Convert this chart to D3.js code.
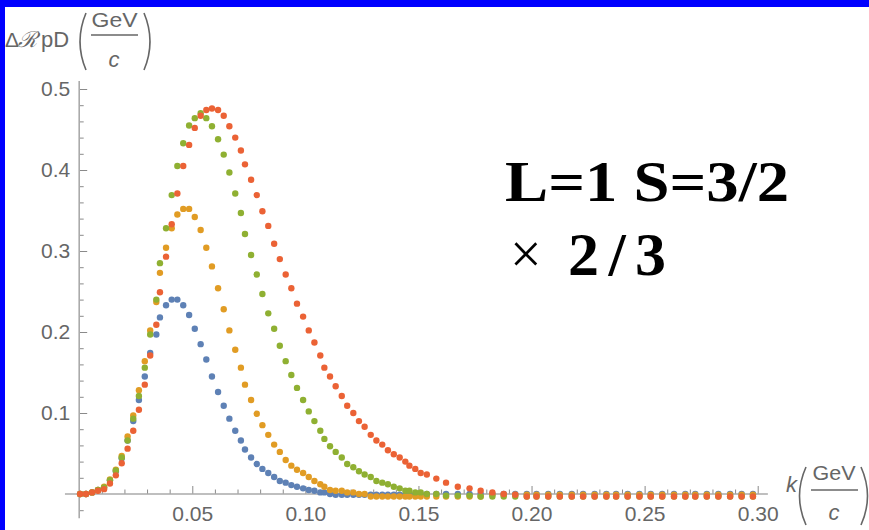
<!DOCTYPE html>
<html>
<head>
<meta charset="utf-8">
<script src="https://cdn.jsdelivr.net/npm/d3@7"></script>
<style>
body { margin: 0; background: #fff; }
svg { display: block; }
</style>
</head>
<body>
<svg width="869" height="530"></svg>
<script>
// k (GeV/c) -- the same sample points for every curve
var k = [0.0004, 0.0030, 0.0057, 0.0083, 0.0110, 0.0136, 0.0162, 0.0188, 0.0214, 0.0239,
         0.0264, 0.0290, 0.0314, 0.0341, 0.0357, 0.0384, 0.0409, 0.0434, 0.0460, 0.0486,
         0.0511, 0.0537, 0.0562, 0.0587, 0.0614, 0.0639, 0.0664, 0.0690, 0.0715, 0.0733,
         0.0760, 0.0785, 0.0810, 0.0836, 0.0862, 0.0887, 0.0913, 0.0938, 0.0963, 0.0990,
         0.1015, 0.1040, 0.1066, 0.1084, 0.1109, 0.1134, 0.1161, 0.1185, 0.1212, 0.1237,
         0.1262, 0.1289, 0.1314, 0.1340, 0.1365, 0.1391, 0.1417, 0.1442, 0.1460, 0.1486,
         0.1510, 0.1537, 0.1579, 0.1622, 0.1674, 0.1726, 0.1775, 0.1827, 0.1877, 0.1928,
         0.1979, 0.2022, 0.2074, 0.2125, 0.2178, 0.2228, 0.2279, 0.2331, 0.2374, 0.2425,
         0.2477, 0.2527, 0.2578, 0.2630, 0.2680, 0.2724, 0.2775, 0.2826, 0.2878, 0.2929, 0.2979];

var blueVals = [0, 0, 0.002, 0.005, 0.008, 0.017, 0.028, 0.044, 0.066, 0.090,
                0.116, 0.145, 0.174, 0.197, 0.218, 0.233, 0.240, 0.240, 0.233, 0.221,
                0.204, 0.185, 0.166, 0.145, 0.126, 0.109, 0.093, 0.078, 0.066, 0.055,
                0.045, 0.037, 0.031, 0.026, 0.021, 0.016, 0.014, 0.011, 0.009, 0.007,
                0.005, 0.004, 0.002, 0.002, 0.000, -0.001, -0.001, -0.001, -0.001, -0.001,
                -0.001, -0.001, -0.001, -0.001, -0.001, -0.001, -0.001, -0.001, -0.001, -0.001,
                -0.001, 0, 0, 0, 0, 0, 0, 0, 0, 0,
                0, 0, 0, 0, 0, 0, 0, 0, 0, 0,
                0, 0, 0, 0, 0, 0, 0, 0, 0, 0, 0];

var orangeVals = [0, 0, 0.002, 0.005, 0.009, 0.018, 0.030, 0.047, 0.071, 0.097,
                  0.128, 0.164, 0.202, 0.237, 0.273, 0.304, 0.328, 0.345, 0.352, 0.352,
                  0.342, 0.326, 0.304, 0.281, 0.254, 0.228, 0.202, 0.178, 0.156, 0.135,
                  0.116, 0.099, 0.085, 0.073, 0.061, 0.052, 0.042, 0.035, 0.030, 0.026,
                  0.021, 0.016, 0.012, 0.009, 0.005, 0.004, 0.004, 0.002, 0.002, 0.000,
                  0.000, -0.003, -0.003, -0.003, -0.003, -0.003, -0.003, -0.003, -0.003, -0.003,
                  -0.003, -0.003, -0.003, -0.003, -0.003, -0.003, -0.003, -0.001, -0.001, -0.001,
                  -0.001, -0.001, -0.001, -0.001, -0.001, -0.001, -0.001, -0.001, -0.001, -0.001,
                  -0.001, -0.001, -0.001, -0.001, -0.001, -0.001, -0.001, -0.001, -0.001, -0.001, -0.001];

var greenVals = [0, 0, 0.002, 0.005, 0.008, 0.017, 0.029, 0.045, 0.066, 0.093,
                 0.121, 0.156, 0.197, 0.240, 0.285, 0.328, 0.369, 0.405, 0.433, 0.455,
                 0.464, 0.470, 0.464, 0.454, 0.438, 0.419, 0.397, 0.371, 0.347, 0.321,
                 0.295, 0.271, 0.247, 0.223, 0.204, 0.183, 0.164, 0.147, 0.131, 0.116,
                 0.102, 0.090, 0.078, 0.068, 0.059, 0.052, 0.045, 0.037, 0.033, 0.028,
                 0.024, 0.021, 0.016, 0.014, 0.012, 0.009, 0.007, 0.004, 0.004, 0.002,
                 0.002, 0.000, 0.000, -0.002, -0.002, -0.002, -0.003, -0.003, -0.003, -0.003,
                 -0.003, -0.003, -0.003, -0.003, -0.003, -0.003, -0.003, -0.003, -0.003, -0.003,
                 -0.003, -0.003, -0.003, -0.003, -0.003, -0.003, -0.003, -0.003, -0.003, -0.003, -0.003];

var redVals = [0, 0, 0.002, 0.004, 0.006, 0.013, 0.023, 0.038, 0.056, 0.078,
               0.104, 0.135, 0.171, 0.209, 0.249, 0.293, 0.333, 0.371, 0.405, 0.431,
               0.452, 0.467, 0.474, 0.476, 0.474, 0.467, 0.454, 0.440, 0.424, 0.407,
               0.388, 0.369, 0.349, 0.331, 0.309, 0.290, 0.271, 0.254, 0.235, 0.219,
               0.202, 0.187, 0.171, 0.156, 0.145, 0.133, 0.121, 0.109, 0.100, 0.090,
               0.083, 0.073, 0.066, 0.061, 0.054, 0.049, 0.045, 0.040, 0.035, 0.031,
               0.026, 0.024, 0.019, 0.014, 0.009, 0.007, 0.004, 0.002, 0.000, -0.001,
               -0.003, -0.003, -0.003, -0.003, -0.003, -0.003, -0.003, -0.003, -0.003, -0.003,
               -0.003, -0.003, -0.003, -0.003, -0.003, -0.003, -0.003, -0.003, -0.003, -0.003, -0.003];

var xTicks = [0.05, 0.10, 0.15, 0.20, 0.25, 0.30];
var xTickLabels = ["0.05", "0.10", "0.15", "0.20", "0.25", "0.30"];
var yTicks = [0.1, 0.2, 0.3, 0.4, 0.5];
var yTickLabels = ["0.1", "0.2", "0.3", "0.4", "0.5"];

// drawn in this order, last one on top
var series = [
    {id: 'blue',   color: '#5E81B5', values: blueVals},
    {id: 'orange', color: '#E19C24', values: orangeVals},
    {id: 'green',  color: '#8FB032', values: greenVals},
    {id: 'red',    color: '#EB6235', values: redVals},
];

var svg = d3.select("svg"),
    width = +svg.attr("width"),
    height = +svg.attr("height");

var x = d3.scaleLinear().domain([0, 0.3]).range([79.2, 757.7]),
    y = d3.scaleLinear().domain([0, 0.5]).range([494, 89]);

var labelFont = "'Liberation Sans', Arial, Helvetica, sans-serif",
    textGray = "#666",
    axisGray = "#aaa",
    tickGray = "#8a8a8a";

svg.append("rect").attr("width", width).attr("height", height).attr("fill", "#fff");
// blue frame (top and left only)
svg.append("rect").attr("x", 0).attr("y", 0).attr("width", width).attr("height", 7).attr("fill", "#0000FF");
svg.append("rect").attr("x", 0).attr("y", 0).attr("width", 5).attr("height", height).attr("fill", "#0000FF");

// minor ticks
var xMinor = d3.range(1, 31).map(function (d) { return d / 100; })
    .filter(function (d) { return Math.round(d * 100) % 5 != 0; });
var yMinor = d3.range(-1, 26).map(function (d) { return d / 50; })
    .filter(function (d) { return Math.round(d * 50) % 5 != 0; });

function styleAxis(g) {
    g.select(".domain").remove();
    g.selectAll(".tick line").attr("stroke", tickGray).attr("stroke-width", 1);
    g.selectAll(".tick text").attr("fill", textGray).attr("font-family", labelFont).attr("font-size", 21);
}

svg.append("g")
    .attr("transform", "translate(0," + y(0) + ")")
    .call(d3.axisBottom(x).tickValues(xMinor).tickSizeInner(-4.5).tickSizeOuter(0).tickFormat(""))
    .call(styleAxis);

svg.append("g")
    .attr("transform", "translate(0," + y(0) + ")")
    .call(d3.axisBottom(x).tickValues(xTicks).tickSizeInner(-8).tickSizeOuter(0).tickPadding(12)
        .tickFormat(function (d, i) { return xTickLabels[i]; }))
    .call(styleAxis);

svg.append("g")
    .attr("transform", "translate(" + x(0) + ",0)")
    .call(d3.axisLeft(y).tickValues(yMinor).tickSizeInner(-4.5).tickSizeOuter(0).tickFormat(""))
    .call(styleAxis);

svg.append("g")
    .attr("transform", "translate(" + x(0) + ",0)")
    .call(d3.axisLeft(y).tickValues(yTicks).tickSizeInner(-8).tickSizeOuter(0).tickPadding(9)
        .tickFormat(function (d, i) { return yTickLabels[i]; }))
    .call(styleAxis);

// axis lines
svg.append("line")
    .attr("x1", x(-0.0063)).attr("x2", x(0.3045))
    .attr("y1", y(0)).attr("y2", y(0))
    .attr("stroke", axisGray).attr("stroke-width", 1.6);
svg.append("line")
    .attr("x1", x(0)).attr("x2", x(0))
    .attr("y1", y(0.51)).attr("y2", y(-0.03))
    .attr("stroke", axisGray).attr("stroke-width", 1.6);

// points
series.forEach(function (s) {
    svg.append("g")
        .attr("fill", s.color)
        .selectAll("circle")
        .data(s.values)
        .enter().append("circle")
        .attr("cx", function (d, i) { return x(k[i]); })
        .attr("cy", function (d) { return y(d); })
        .attr("r", 3.2);
});

// big thin parentheses
function paren(x0, top, bottom, bulge) {
    var p = d3.path();
    p.moveTo(x0, top);
    p.quadraticCurveTo(x0 + 2 * bulge, (top + bottom) / 2, x0, bottom);
    svg.append("path").attr("d", p.toString())
        .attr("fill", "none").attr("stroke", textGray).attr("stroke-width", 1.6);
}

function label(x0, y0, txt, size, opts) {
    opts = opts || {};
    var t = svg.append("text")
        .attr("x", x0).attr("y", y0)
        .attr("font-family", opts.family || labelFont)
        .attr("font-size", size)
        .attr("fill", textGray)
        .text(txt);
    if (opts.italic) t.attr("font-style", "italic");
    if (opts.anchor) t.attr("text-anchor", opts.anchor);
    if (opts.len) t.attr("textLength", opts.len).attr("lengthAdjust", "spacingAndGlyphs");
    return t;
}

// y axis label: ΔR pD (GeV / c)
label(5, 47, "Δ", 21);
label(18, 47, "\u211B", 22, {family: "'DejaVu Serif', serif", italic: true});
label(41, 47, "pD", 22);
paren(86, 13, 70, -6);
label(114.5, 27, "GeV", 21, {anchor: "middle", len: 46});
svg.append("line").attr("x1", 91).attr("x2", 138).attr("y1", 35).attr("y2", 35)
    .attr("stroke", textGray).attr("stroke-width", 1.3);
label(114, 67, "c", 22, {anchor: "middle", italic: true});
paren(144, 13, 70, 6);

// x axis label: k (GeV / c)
label(786, 492, "k", 22, {italic: true});
paren(806, 467, 525, -6.5);
label(834, 480, "GeV", 21, {anchor: "middle", len: 43});
svg.append("line").attr("x1", 811).attr("x2", 858).attr("y1", 490).attr("y2", 490)
    .attr("stroke", textGray).attr("stroke-width", 1.3);
label(834, 520, "c", 22, {anchor: "middle", italic: true});
paren(861, 467, 525, 6.5);

// annotation
var serif = "'Liberation Serif', 'Times New Roman', Times, serif";
svg.append("text")
    .attr("x", 505).attr("y", 201)
    .attr("font-family", serif).attr("font-weight", "bold").attr("font-size", 58)
    .attr("textLength", 284).attr("lengthAdjust", "spacingAndGlyphs")
    .attr("fill", "#000")
    .text("L=1 S=3/2");
svg.append("text")
    .attr("x", 510).attr("y", 273)
    .attr("font-family", serif).attr("font-size", 56).attr("fill", "#000")
    .text("\u00D7");
svg.append("text")
    .attr("x", 568).attr("y", 275)
    .attr("font-family", serif).attr("font-weight", "bold").attr("font-size", 62).attr("fill", "#000")
    .attr("textLength", 98).attr("lengthAdjust", "spacing")
    .text("2/3");
</script>
</body>
</html>
